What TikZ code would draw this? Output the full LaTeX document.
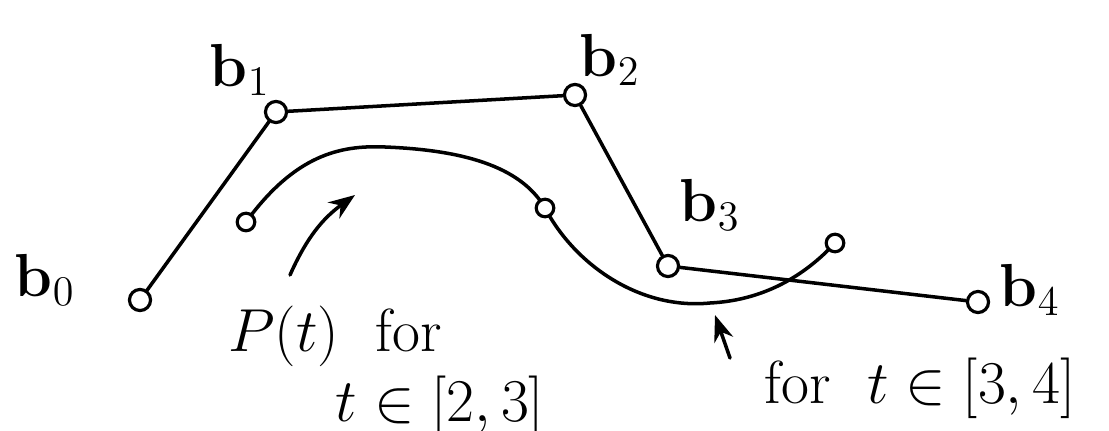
\documentclass[tikz,border=0pt]{standalone}
\usetikzlibrary{arrows.meta}
\tikzset{
  punto/.style={draw, circle, line width=0.9pt, inner sep=0pt, minimum size=6pt, fill=white},
  etiqueta/.style={font=\LARGE, inner sep=1pt},
  trazo/.style={line width=1pt, line cap=round, line join=round}
}
\begin{document}
\begin{tikzpicture}[>=Stealth]
    \useasboundingbox (0,0) rectangle (11.09,4.30);

    % === Poligono de control ===
    \node[punto] (b0) at (1.40, 1.30) {};
    \node[punto] (b1) at (2.76, 3.18) {};
    \node[punto] (b2) at (5.75, 3.35) {};
    \node[punto] (b3) at (6.68, 1.64) {};
    \node[punto] (b4) at (9.78, 1.28) {};
    \draw[trazo] (b0) -- (b1) -- (b2) -- (b3) -- (b4);

    % Etiquetas de los puntos
    \node[etiqueta] (lb0) at (0.45, 1.50) {$\mathbf{b}_0$};
    \node[etiqueta] (lb1) at (2.40, 3.60) {$\mathbf{b}_1$};
    \node[etiqueta] (lb2) at (6.10, 3.70) {$\mathbf{b}_2$};
    \node[etiqueta] (lb3) at (7.10, 2.25) {$\mathbf{b}_3$};
    \node[etiqueta] (lb4) at (10.30, 1.40) {$\mathbf{b}_4$};

    % === Curva P(t) ===
    \coordinate (c0) at (2.46, 2.08);
    \coordinate (c1) at (5.45, 2.22);
    \coordinate (c2) at (8.35, 1.87);
    \draw[trazo] (c0) .. controls (2.95, 2.75) and (3.40, 2.85) .. (3.85, 2.83)
                      .. controls (4.60, 2.80) and (5.20, 2.65) .. (c1)
                      .. controls (5.75, 1.65) and (6.40, 1.20) .. (7.10, 1.27)
                      .. controls (7.70, 1.30) and (8.10, 1.60) .. (c2);
    \node[punto, minimum size=5pt] (m0) at (c0) {};
    \node[punto, minimum size=5pt] (m1) at (c1) {};
    \node[punto, minimum size=5pt] (m2) at (c2) {};

    % === Textos y flechas ===
    \node[etiqueta] (txt1) at (3.35, 0.94) {$P(t)$\ \ for};
    \node[etiqueta] (txt2) at (4.40, 0.24) {$t \in [2,3]$};
    \node[etiqueta] (txt3) at (9.20, 0.42) {for\ \ $t \in [3,4]$};

    \coordinate (f1a) at (2.90, 1.55);
    \coordinate (f1b) at (3.55, 2.35);
    \draw[->, trazo] (f1a) to[bend left=15] (f1b);
    \coordinate (f2a) at (7.30, 0.72);
    \coordinate (f2b) at (7.15, 1.15);
    \draw[->, trazo] (f2a) -- (f2b);

\end{tikzpicture}
\end{document}
